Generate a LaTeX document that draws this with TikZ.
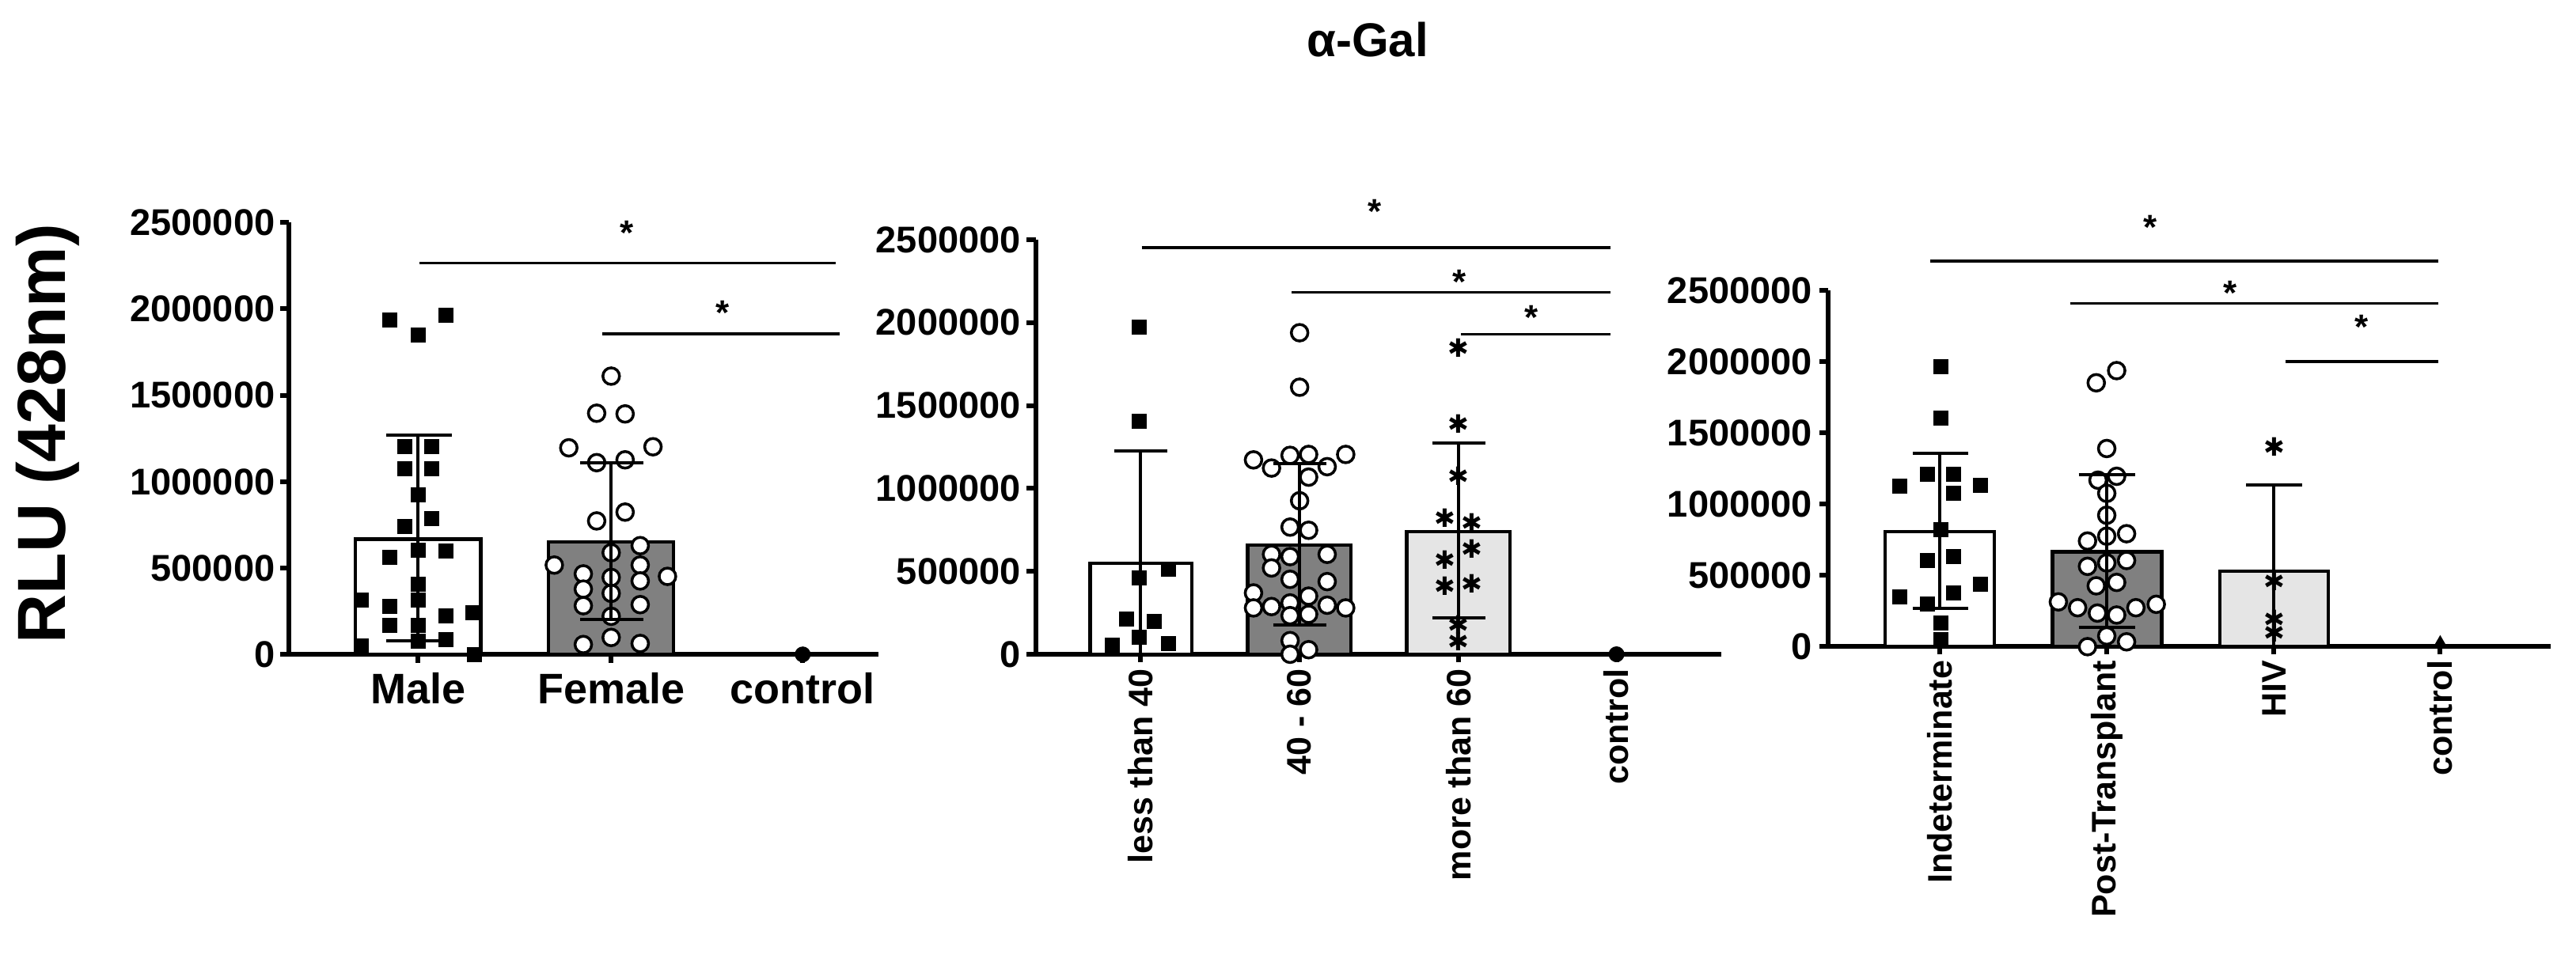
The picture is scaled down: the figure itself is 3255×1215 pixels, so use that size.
\documentclass[tikz,border=0pt]{standalone}
\usepackage{fontspec}
\setmainfont{Liberation Sans}
\newfontfamily\djfont{DejaVu Sans}
\usetikzlibrary{shapes.geometric}
\tikzset{
 axisline/.style={line width=6bp},
 barbox/.style={draw,line width=4.5bp},
 errline/.style={line width=4bp},
 sigline/.style={line width=3.5bp},
 ticklab/.style={anchor=east,inner sep=0,font=\fontsize{47bp}{50bp}\selectfont\bfseries},
 catlab/.style={anchor=north,inner sep=0,font=\fontsize{54bp}{60bp}\selectfont\bfseries},
 rotlab/.style={anchor=east,rotate=90,inner sep=0,font=\fontsize{43bp}{50bp}\selectfont\bfseries},
 sigstar/.style={inner sep=0,font=\fontsize{44bp}{46bp}\selectfont\bfseries},
 sqm/.style={fill=black,minimum size=19bp,inner sep=0,draw=none},
 cim/.style={circle,draw=black,fill=white,line width=3.5bp,minimum size=21bp,inner sep=0},
 stm/.style={inner sep=0,font=\djfont\fontsize{32bp}{32bp}\selectfont},
 dotm/.style={circle,fill=black,minimum size=20bp,inner sep=0},
 trim/.style={regular polygon,regular polygon sides=3,fill=black,minimum size=22bp,inner sep=0},
}
\begin{document}
\begin{tikzpicture}[x=1bp,y=-1bp]
\useasboundingbox (0,0) rectangle (3255,1215);
\node[inner sep=0,font=\fontsize{60bp}{64bp}\selectfont\bfseries] (title) at (1728,50) {α-Gal};
\node[rotate=90,inner sep=0,font=\fontsize{86bp}{90bp}\selectfont\bfseries] (ylab) at (60,548) {RLU (428nm)};
% ---------- panel 1
\begin{scope}[shift={(0,250)},xscale=0.7334,yscale=0.4464]
\draw[axisline] (497,70) -- (497,1293) -- (1513,1293);
\foreach \v/\t in {0/0,1/500000,2/1000000,3/1500000,4/2000000,5/2500000}{
 \draw[axisline] (483,{1293-\v*244.6}) -- (497,{1293-\v*244.6});
 \node[ticklab] at (474,{1293-\v*244.6}) {\t};}
\draw[barbox,fill=white] (612,967) rectangle (828,1293);
\draw[barbox,fill=black!50] (945,975) rectangle (1160,1293);
\foreach \x in {720,1053,1383} \draw[axisline] (\x,1293) -- (\x,1318);
\node[catlab] (m) at (720,1345) {Male};
\node[catlab] (f) at (1053,1345) {Female};
\node[catlab] (c) at (1383,1345) {control};
\foreach \p in {{672,345},{769,333},{720,388},{697,705},{744,705},{697,768},{744,768},{720,842},{744,908},{697,930},{769,1000},{672,1018},{720,998},{720,1095},{623,1140},{672,1158},{815,1175},{720,1140},{769,1185},{672,1210},{720,1210},{769,1250},{720,1255},{623,1270},{818,1293}} \node[sqm] at (\p) {};
\foreach \p in {{1053,505},{1028,610},{1077,612},{980,708},{1125,705},{1028,750},{1077,742},{1077,890},{1028,915},{1103,985},{1053,1005},{955,1040},{1005,1065},{1103,1040},{1150,1072},{1053,1075},{1005,1108},{1103,1085},{1053,1120},{1005,1155},{1103,1152},{1053,1185},{1053,1245},{1005,1265},{1103,1262}} \node[cim] at (\p) {};
\draw[errline] (720,672) -- (720,1255) (665,672) -- (778,672) (665,1255) -- (778,1255);
\draw[errline] (1053,750) -- (1053,1195) (1000,750) -- (1108,750) (1000,1195) -- (1108,1195);
\node[dotm] at (1383,1293) {};
\draw[sigline] (722,185) -- (1440,185); \node[sigstar] at (1080,100) {*};
\draw[sigline] (1037,385) -- (1447,385); \node[sigstar] at (1245,325) {*};
\end{scope}
% ---------- panel 2
\begin{scope}[shift={(1150,230)},xscale=0.6696,yscale=0.574]
\draw[axisline] (237,127) -- (237,1040) -- (1530,1040);
\foreach \v/\t in {0/0,1/500000,2/1000000,3/1500000,4/2000000,5/2500000}{
 \draw[axisline] (220,{1040-\v*182.6}) -- (237,{1040-\v*182.6});
 \node[ticklab] at (209,{1040-\v*182.6}) {\t};}
\draw[barbox,fill=white] (340,840) rectangle (532,1040);
\draw[barbox,fill=black!50] (637,800) rectangle (832,1040);
\draw[barbox,fill=black!10] (937,770) rectangle (1132,1040);
\foreach \x in {435,735,1035,1333} \draw[axisline] (\x,1040) -- (\x,1058);
\node[rotlab] at (435,1072) {less than 40};
\node[rotlab] at (735,1072) {40 - 60};
\node[rotlab] at (1035,1072) {more than 60};
\node[rotlab] at (1333,1072) {control};
\foreach \p in {{433,320},{433,527},{487,853},{433,872},{408,963},{461,968},{433,1003},{382,1020},{487,1017}} \node[sqm] at (\p) {};
\foreach \p in {{735,332},{735,452},{648,612},{717,602},{752,600},{822,600},{682,630},{787,627},{752,650},{735,702},{717,760},{752,767},{682,820},{717,825},{787,820},{682,850},{717,875},{787,880},{648,905},{752,912},{648,938},{682,935},{717,927},{787,932},{822,938},{717,955},{752,952},{717,1010},{752,1030},{717,1040}} \node[cim] at (\p) {};
\foreach \p in {{1035,365},{1035,532},{1035,648},{1010,740},{1060,750},{1010,832},{1060,808},{1010,890},{1060,885},{1035,975},{1035,1012}} \node[stm] at (\p) {✱};
\draw[errline] (435,592) -- (435,1040) (385,592) -- (485,592);
\draw[errline] (735,620) -- (735,975) (685,620) -- (785,620) (685,975) -- (785,975);
\draw[errline] (1035,575) -- (1035,960) (985,575) -- (1085,575) (985,960) -- (1085,960);
\node[dotm] at (1333,1040) {};
\draw[sigline] (437,145) -- (1322,145); \node[sigstar] at (877,65) {*};
\draw[sigline] (720,243) -- (1322,243); \node[sigstar] at (1037,220) {*};
\draw[sigline] (1040,335) -- (1322,335); \node[sigstar] at (1172,298) {*};
\end{scope}
% ---------- panel 3
\begin{scope}[shift={(2100,250)},xscale=0.7366,yscale=0.6154]
\draw[axisline] (285,190) -- (285,922) -- (1525,922);
\foreach \v/\t in {0/0,1/500000,2/1000000,3/1500000,4/2000000,5/2500000}{
 \draw[axisline] (270,{922-\v*146.4}) -- (285,{922-\v*146.4});
 \node[ticklab] at (258,{922-\v*146.4}) {\t};}
\draw[barbox,fill=white] (383,686) rectangle (570,922);
\draw[barbox,fill=black!50] (670,727) rectangle (857,922);
\draw[barbox,fill=black!10] (957,767) rectangle (1143,922);
\foreach \x in {477,763,1050,1335} \draw[axisline] (\x,922) -- (\x,937);
\node[rotlab] at (477,950) {Indeterminate};
\node[rotlab] at (763,950) {Post-Transplant};
\node[rotlab] at (1050,950) {HIV};
\node[rotlab] at (1335,950) {control};
\foreach \p in {{478,347},{478,452},{408,592},{455,568},{500,568},{546,590},{500,607},{478,682},{455,745},{500,737},{408,820},{455,835},{500,812},{546,793},{478,873},{478,908}} \node[sqm] at (\p) {};
\foreach \p in {{745,380},{780,355},{763,515},{748,580},{780,572},{763,607},{763,652},{730,705},{763,695},{797,690},{730,757},{763,750},{797,745},{745,797},{780,790},{680,830},{713,842},{747,853},{780,857},{813,842},{848,835},{763,900},{730,922},{797,912}} \node[cim] at (\p) {};
\foreach \p in {{1050,512},{1050,787},{1050,865},{1050,893}} \node[stm] at (\p) {✱};
\draw[errline] (477,525) -- (477,843) (430,525) -- (525,525) (430,843) -- (525,843);
\draw[errline] (763,568) -- (763,882) (715,568) -- (812,568) (715,882) -- (812,882);
\draw[errline] (1050,590) -- (1050,922) (1002,590) -- (1098,590);
\node[trim] at (1335,916) {};
\draw[sigline] (460,130) -- (1332,130); \node[sigstar] at (837,60) {*};
\draw[sigline] (700,217) -- (1332,217); \node[sigstar] at (975,195) {*};
\draw[sigline] (1070,336) -- (1332,336); \node[sigstar] at (1200,265) {*};
\end{scope}
\end{tikzpicture}
\end{document}
